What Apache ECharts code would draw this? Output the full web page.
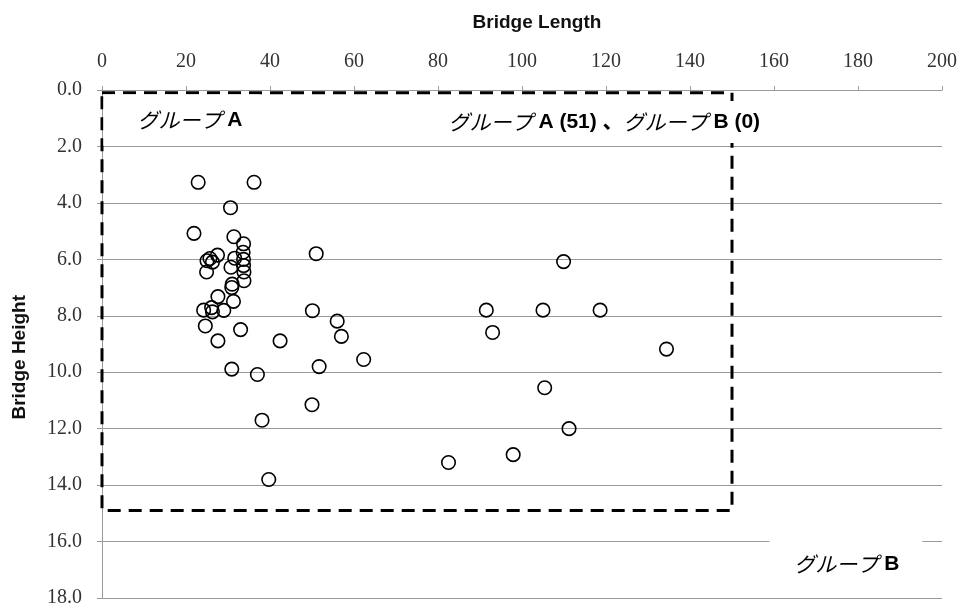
<!DOCTYPE html>
<html>
<head>
<meta charset="utf-8">
<script src="https://cdn.jsdelivr.net/npm/echarts@6/dist/echarts.min.js"></script>
<style>
  html, body { margin: 0; padding: 0; background: #fff; }
  #chart { width: 961px; height: 609px; }
</style>
</head>
<body>
<div id="chart"></div>
<script>
// Bridge span (length) and clearance (height) of each surveyed bridge
const bridgeLength = [
  22.9, 36.2, 30.6, 21.9, 31.4, 33.7, 33.6, 51.0, 27.5, 25.7,
  25.0, 26.3, 31.6, 33.7, 33.7, 30.7, 24.9, 33.8, 33.8, 31.0,
  30.9, 27.6, 31.3, 24.2, 26.1, 26.3, 29.0, 50.1, 24.6, 56.0,
  33.0, 57.0, 27.6, 42.4, 62.3, 30.9, 51.7, 37.0, 109.9, 91.5,
  105.0, 118.6, 93.0, 134.4, 105.4, 50.0, 38.1, 111.2, 97.9, 82.5,
  39.7
];
const bridgeHeight = [
  3.27, 3.27, 4.17, 5.08, 5.2, 5.45, 5.75, 5.8, 5.85, 5.97,
  6.05, 6.1, 5.96, 6.0, 6.22, 6.28, 6.45, 6.45, 6.76, 6.88,
  7.0, 7.32, 7.49, 7.8, 7.71, 7.86, 7.81, 7.82, 8.36, 8.19,
  8.49, 8.73, 8.89, 8.89, 9.55, 9.89, 9.8, 10.08, 6.08, 7.8,
  7.8, 7.8, 8.59, 9.18, 10.55, 11.15, 11.7, 12.0, 12.92, 13.2,
  13.8
];

// Group A boundary: length up to 150, height up to 14.9
const groupABoxX = [0, 150, 150, 0, 0];
const groupABoxY = [0.1, 0.1, 14.9, 14.9, 0.1];

// Annotation texts and their anchor points (data coordinates)
const noteTexts = ['グループ A', 'グループ A (51) 、グループ B (0)', 'グループ B'];
const noteX = [18.9, 119.6, 177.1];
const noteY = [1.06, 1.13, 16.83];

const xTicks = { min: 0, max: 200, step: 20 };
const yTicks = { min: 0, max: 18, step: 2 };

const points = bridgeLength.map((v, i) => [v, bridgeHeight[i]]);
const boxLine = groupABoxX.map((v, i) => [v, groupABoxY[i]]);

// white panels behind the notes (padding: top, right, bottom, left)
const notePadding = [
  [15, 17, 15, 34],
  [11, 3, 10, 3],
  [20, 23, 21, 25]
];

// Katakana in the notes is slanted, latin part upright bold
function richNote(text) {
  return text.split(/(グループ)/).filter(s => s.length)
    .map(s => s === 'グループ' ? '{k|グループ}' : '{b|' + s + '}').join('');
}

const notes = noteTexts.map((t, i) => ({
  value: [noteX[i], noteY[i]],
  name: t,
  label: { backgroundColor: '#fff', padding: notePadding[i] }
}));

const gridColor = '#9a9a9a';
const tickFont = '"Liberation Serif", "DejaVu Serif", serif';
const boldFont = '"Liberation Sans", Arial, "Noto Sans CJK JP", sans-serif';

const chart = echarts.init(document.getElementById('chart'), null, { renderer: 'canvas' });

chart.setOption({
  animation: false,
  backgroundColor: '#ffffff',
  title: {
    text: 'Bridge Length',
    left: 532,
    top: 8,
    textAlign: 'center',
    textStyle: { fontFamily: boldFont, fontWeight: 'bold', fontSize: 19, color: '#111' }
  },
  graphic: [{
    type: 'text',
    left: 10,
    top: 295,
    rotation: Math.PI / 2,
    style: {
      text: 'Bridge Height',
      font: 'bold 19px ' + boldFont,
      fill: '#111'
    }
  }],
  grid: { left: 102, right: 19, top: 90, bottom: 11, containLabel: false },
  xAxis: {
    type: 'value',
    position: 'top',
    min: xTicks.min,
    max: xTicks.max,
    interval: xTicks.step,
    axisLine: { show: true, lineStyle: { color: gridColor, width: 1 } },
    axisTick: { show: true, length: 4, lineStyle: { color: gridColor } },
    axisLabel: { margin: 18, fontFamily: tickFont, fontSize: 20, color: '#333' },
    splitLine: { show: false }
  },
  yAxis: {
    type: 'value',
    inverse: true,
    min: yTicks.min,
    max: yTicks.max,
    interval: yTicks.step,
    axisLine: { show: true, lineStyle: { color: gridColor, width: 1 } },
    axisTick: { show: true, length: 5, lineStyle: { color: gridColor } },
    axisLabel: {
      margin: 20,
      fontFamily: tickFont,
      fontSize: 20,
      color: '#333',
      formatter: v => v.toFixed(1)
    },
    splitLine: { show: true, lineStyle: { color: gridColor, width: 1 } }
  },
  series: [
    {
      name: 'box',
      type: 'line',
      data: boxLine,
      symbol: 'none',
      silent: true,
      z: 3,
      lineStyle: { color: '#000', width: 3, type: [13, 8] }
    },
    {
      name: 'notes',
      type: 'scatter',
      data: notes,
      symbolSize: 0,
      silent: true,
      z: 4,
      itemStyle: { opacity: 1 },
      label: {
        show: true,
        position: 'inside',
        formatter: p => richNote(p.name),
        color: '#000',
        rich: {
          k: {
            fontFamily: '"Noto Sans CJK JP", sans-serif',
            fontStyle: 'italic',
            fontWeight: 'normal',
            fontSize: 21,
            color: '#000'
          },
          b: {
            fontFamily: boldFont,
            fontWeight: 'bold',
            fontSize: 21,
            color: '#000'
          }
        }
      },
      labelLayout: { hideOverlap: false }
    },
    {
      name: 'bridges',
      type: 'scatter',
      data: points,
      symbol: 'circle',
      symbolSize: 13.5,
      z: 5,
      itemStyle: { opacity: 1, color: 'rgba(0,0,0,0)', borderColor: '#000', borderWidth: 1.6 }
    }
  ]
});
</script>
</body>
</html>
